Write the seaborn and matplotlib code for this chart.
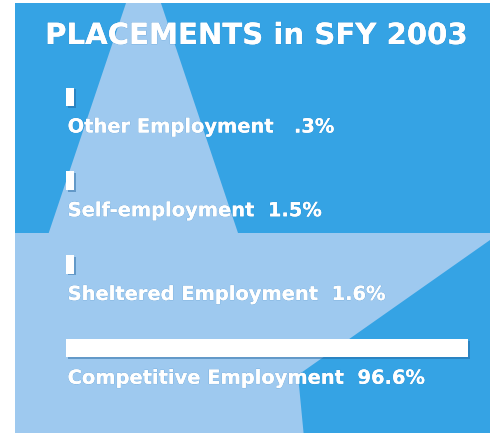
import numpy as np
import pandas as pd
import matplotlib
matplotlib.use("Agg")
import matplotlib.pyplot as plt
import matplotlib.patheffects as pe
from matplotlib.patches import Polygon, Rectangle
import seaborn as sns

# datos del grafico
categorias = ['Other Employment', 'Self-employment', 'Sheltered Employment', 'Competitive Employment']
porcentajes = [0.3, 1.5, 1.6, 96.6]
etiquetas_pct = ['.3%', '1.5%', '1.6%', '96.6%']
titulo = 'PLACEMENTS in SFY 2003'

azul = '#35a3e4'
azul_claro = '#9ec9ef'

sns.set_theme(style='white')
plt.rcParams['font.family'] = ['DejaVu Sans']

W, H = 490, 433
fig = plt.figure(figsize=(W / 100, H / 100), dpi=100)
fig.patch.set_facecolor('white')

# fondo: panel azul con la estrella (en pixeles)
bg = fig.add_axes([0, 0, 1, 1])
bg.set_xlim(0, W)
bg.set_ylim(H, 0)
bg.axis('off')
panel = Rectangle((15, 3), W - 15, H - 3, facecolor=azul, edgecolor='none')
bg.add_patch(panel)
estrella = Polygon([(143.5, -49), (238, 233), (500, 233), (298, 375), (310, 500),
                    (-100, 500), (-100, 233), (48.7, 233)],
                   closed=True, facecolor=azul_claro, edgecolor='none')
bg.add_patch(estrella)
estrella.set_clip_path(panel)

sombra = [pe.withSimplePatchShadow(offset=(1.2, -1.2), shadow_rgbFace='#1d5f9a', alpha=0.45)]
sombra_txt = [pe.withStroke(linewidth=0.6, foreground='#2a78b8', alpha=0.35), pe.Normal()]

# barras (las muy pequenas se dibujan con un ancho minimo visible)
df = pd.DataFrame({'categoria': categorias, 'valor': np.maximum(porcentajes, 2.0)})
ax = fig.add_axes([66 / W, (H - 390) / H, 404 / W, 335 / H])
ax.patch.set_alpha(0)
sns.barplot(data=df, y='categoria', x='valor', orient='h', color='white',
            width=0.22, saturation=1, ax=ax)
for p in ax.patches:
    p.set_edgecolor('none')
    p.set_path_effects(sombra)
ax.set_xlim(0, 97.1)
ax.set_ylim(3.5, -0.5)
ax.axis('off')

for i, (cat, pct) in enumerate(zip(categorias, etiquetas_pct)):
    sep = '  ' if i == 0 else ' '
    ax.text(0.4, i + 0.36, f'{cat}{sep} {pct}', ha='left', va='center',
            color='white', fontsize=14, fontweight='bold',
            path_effects=sombra_txt)

fig.text(256 / W, 1 - 36 / H, titulo, ha='center', va='center', color='white',
         fontsize=21, fontweight='bold', path_effects=sombra_txt)

fig.savefig('out.png', dpi=100, facecolor=fig.get_facecolor())
